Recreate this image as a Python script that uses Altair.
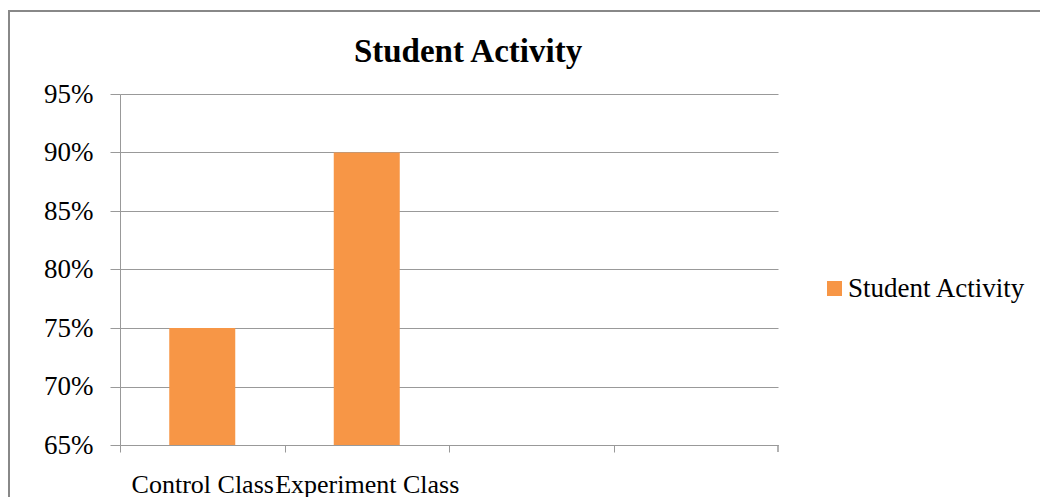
import altair as alt
import pandas as pd

categories = ["Control Class", "Experiment Class", " ", "  "]
values = [0.75, 0.90]
series_name = "Student Activity"
chart_title = "Student Activity"
y_ticks = [0.65, 0.70, 0.75, 0.80, 0.85, 0.90, 0.95]

df = pd.DataFrame({
    "category": categories[:2],
    "value": values,
    "series": [series_name] * 2,
})

W, H = 658, 351
STEP = W / len(categories)
FONT = "Liberation Serif"
GRID = "#999999"

bars = alt.Chart(df).mark_bar(size=66, clip=True).encode(
    x=alt.X("category:N",
            scale=alt.Scale(domain=categories, paddingInner=0.6, paddingOuter=0.3),
            axis=alt.Axis(title=None, labelAngle=0, labelOverlap=False, labelLimit=400,
                          tickSize=7, tickColor=GRID, domainColor=GRID,
                          tickOffset=-STEP / 2, labelOffset=STEP / 2,
                          labelFont=FONT, labelFontSize=26, labelColor="#000000",
                          labelBaseline="alphabetic", labelPadding=40)),
    y=alt.Y("value:Q",
            scale=alt.Scale(domain=[0.65, 0.95], nice=False, zero=False),
            axis=alt.Axis(title=None, format=".0%", values=y_ticks, grid=True,
                          gridColor=GRID, tickColor=GRID, domainColor=GRID, tickSize=10,
                          labelFont=FONT, labelFontSize=27, labelColor="#000000",
                          labelPadding=17)),
    color=alt.Color("series:N", scale=alt.Scale(range=["#F79646"]),
                    legend=alt.Legend(title=None, orient="none", legendX=701, legendY=181,
                                      symbolType="square", symbolSize=225,
                                      symbolStrokeWidth=0, labelLimit=400,
                                      labelFont=FONT, labelFontSize=27, labelColor="#000000",
                                      labelOffset=0)),
)

end_tick = alt.Chart(df).mark_rule(color=GRID).encode(
    x=alt.value(W), y=alt.value(H), y2=alt.value(H + 7)
)

frame = alt.Chart(df).mark_rect(fillOpacity=0, stroke="#888888", strokeWidth=2).encode(
    x=alt.value(-111), x2=alt.value(1000), y=alt.value(-83), y2=alt.value(700)
)

title = alt.Chart(df).transform_aggregate(n="count()").mark_text(
    font=FONT, fontSize=33, fontWeight="bold", color="#000000",
    align="center", baseline="alphabetic",
).encode(
    x=alt.value(W / 2 + 19), y=alt.value(-32), text=alt.value(chart_title)
)

chart = alt.layer(frame, bars, end_tick, title).properties(
    width=W, height=H,
    autosize=alt.AutoSizeParams(type="none"),
    padding={"left": 112, "top": 86, "right": 262, "bottom": 52},
).configure_view(stroke=None)

chart.save("out.html", embed_options={"renderer": "svg", "actions": False})
